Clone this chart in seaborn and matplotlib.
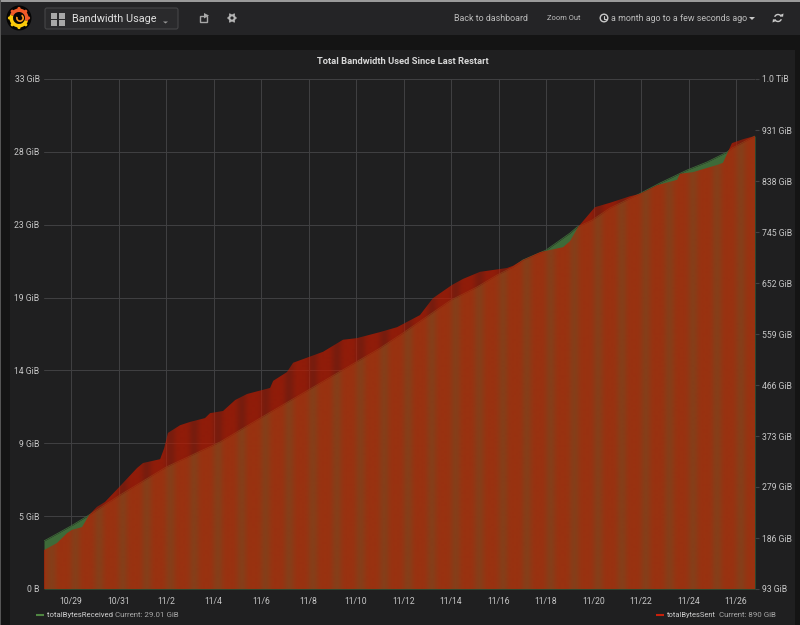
import numpy as np
import matplotlib
matplotlib.use('Agg')
import matplotlib.pyplot as plt
from matplotlib.patches import Circle, Rectangle, FancyBboxPatch, Polygon, Wedge
import seaborn as sns

# days since 10/29, bytes in GiB
days_received = [-1.14, 0, 0.76, 2.06, 4.0, 5.01, 6.27, 7.83, 10.06, 13.01, 13.98, 16.0, 17.09, 17.94,
                 18.61, 19.03, 20.0, 21.01, 21.31, 21.94, 22.69, 23.92, 24.8, 25.94, 26.78, 27.62, 27.83, 28.8]
received = [3.11, 4.08, 4.79, 6.08, 7.89, 8.61, 9.51, 10.94, 12.94, 15.59, 16.57, 18.70, 19.54, 20.32,
            20.83, 21.29, 21.93, 23.03, 23.42, 23.87, 24.65, 25.56, 26.27, 27.11, 27.63, 28.27, 28.53, 29.31]
days_sent = [-1.14, -0.59, -0.17, 0.04, 0.46, 0.76, 1.09, 1.43, 1.98, 2.78, 3.03, 3.75, 3.92, 4.08, 4.59,
             5.01, 5.64, 5.85, 6.4, 6.91, 7.41, 8.38, 8.51, 9.09, 9.35, 10.61, 11.45, 12.04, 13.01, 13.73,
             14.69, 15.24, 16.04, 16.5, 17.22, 18.36, 18.61, 19.03, 19.75, 20.72, 21.01, 21.35, 22.06, 22.69,
             23.54, 23.92, 24.67, 25.52, 25.64, 26.19, 27.2, 27.45, 27.83, 28.29, 28.8]
sent = [164, 177, 195, 201, 206, 228, 243, 252, 277, 314, 323, 330, 350, 378, 392,
        398, 405, 414, 418, 438, 449, 460, 473, 489, 506, 526, 548, 551, 562, 571,
        593, 624, 648, 659, 672, 679, 683, 694, 708, 717, 728, 754, 790, 798,
        810, 814, 830, 840, 851, 854, 867, 871, 907, 914, 920]

x_labels = ['10/29', '10/31', '11/2', '11/4', '11/6', '11/8', '11/10', '11/12', '11/14', '11/16',
            '11/18', '11/20', '11/22', '11/24', '11/26']
left_labels = ['0 B', '5 GiB', '9 GiB', '14 GiB', '19 GiB', '23 GiB', '28 GiB', '33 GiB']
right_labels = ['93 GiB', '186 GiB', '279 GiB', '373 GiB', '466 GiB', '559 GiB', '652 GiB', '745 GiB',
                '838 GiB', '931 GiB', '1.0 TiB']

GREEN = '#3e6b39'  # already blended with the panel, so the grid stays hidden
RED = '#bf1b00'
PANEL = '#1f1f20'
TEXT = '#c8c8c8'
GRID = '#414143'

sns.set_theme(style='dark', rc={'figure.facecolor': '#141414', 'axes.facecolor': PANEL, 'text.color': TEXT,
                                'xtick.color': TEXT, 'ytick.color': TEXT, 'axes.edgecolor': GRID})
plt.rcParams['font.family'] = ['Roboto', 'DejaVu Sans']

fig = plt.figure(figsize=(8, 6.25), dpi=100)

# page furniture, in pixels
bg = fig.add_axes([0, 0, 1, 1], zorder=0)
bg.set_xlim(0, 800)
bg.set_ylim(625, 0)
bg.axis('off')
bg.add_patch(Rectangle((1, 2), 799, 33, color='#242426', lw=0))
bg.add_patch(Rectangle((0, 0), 800, 1.5, color='#9a9a9a', lw=0))
bg.add_patch(Rectangle((0, 0), 1.2, 625, color='#555555', lw=0))
bg.add_patch(Rectangle((10, 50), 785, 575, color=PANEL, lw=0))
bg.add_patch(FancyBboxPatch((45, 8), 133, 21, boxstyle='round,pad=0,rounding_size=2',
                            fc='#2a2a2c', ec='#454547', lw=0.8))

# logo
bg.add_patch(Circle((19, 18), 12.5, color='#050505', lw=0))
bg.add_patch(Wedge((19, 18), 9.5, 200, 20, width=3.5, color='#f05a28', lw=0))
bg.add_patch(Wedge((19, 18), 9.5, 20, 200, width=3.5, color='#fbca0a', lw=0))
for a in np.arange(0, 360, 45):
    bg.add_patch(Circle((19 + 9.5 * np.cos(np.radians(a)), 18 + 9.5 * np.sin(np.radians(a))), 1.6,
                        color='#fbca0a' if 20 < a < 200 else '#f05a28', lw=0))
bg.add_patch(Wedge((20, 18), 4, 300, 200, width=1.7, color='#f79520', lw=0))

for px, py in [(51, 13), (58.5, 13), (51, 20), (58.5, 20)]:
    bg.add_patch(Rectangle((px, py), 6, 5.5, color='#a8a8a8', lw=0))
bg.add_patch(Polygon([(163, 21.5), (168, 21.5), (165.5, 23.5)], color='#999999', lw=0))

# share icon
bg.add_patch(Rectangle((200, 15.5), 6.5, 6, fc='none', ec='#a8a8a8', lw=1))
bg.add_patch(Polygon([(204, 13), (209, 15.5), (204, 18.5)], color='#a8a8a8', lw=0))
# gear icon
bg.add_patch(Circle((232, 18), 2.7, fc='none', ec='#b5b5b5', lw=1.5))
for a in np.arange(0, 360, 60):
    bg.plot([232 + 2.7 * np.cos(np.radians(a)), 232 + 4.4 * np.cos(np.radians(a))],
            [18 + 2.7 * np.sin(np.radians(a)), 18 + 4.4 * np.sin(np.radians(a))], color='#b5b5b5', lw=1.2)
# clock
bg.add_patch(Circle((604, 18), 3.8, fc='none', ec='#c8c8c8', lw=1))
bg.plot([604, 604, 606], [15.5, 18.5, 18.5], color='#c8c8c8', lw=0.8)
bg.add_patch(Polygon([(749, 17), (755, 17), (752, 20)], color='#c8c8c8', lw=0))
# refresh
bg.add_patch(Wedge((778, 18), 4.2, 200, 340, width=1.4, color='#c8c8c8', lw=0))
bg.add_patch(Wedge((778, 18), 4.2, 20, 160, width=1.4, color='#c8c8c8', lw=0))
bg.add_patch(Polygon([(780, 15), (783.5, 13.5), (783, 17)], color='#c8c8c8', lw=0))
bg.add_patch(Polygon([(776, 21), (772.5, 22.5), (773, 19)], color='#c8c8c8', lw=0))

bg.text(71.5, 18.5, 'Bandwidth Usage', fontsize=7.85, color='#e0e0e0', va='center')
bg.text(454, 18.5, 'Back to dashboard', fontsize=6.4, color='#bcbcbc', va='center')
bg.text(547, 18.5, 'Zoom Out', fontsize=5.4, color='#bcbcbc', va='center')
bg.text(611, 18.5, 'a month ago to a few seconds ago', fontsize=6.4, color='#bcbcbc', va='center')
bg.text(403, 61, 'Total Bandwidth Used Since Last Restart', fontsize=6.75, fontweight='bold',
        color='#d8d8d8', ha='center', va='center')

# legend
bg.plot([36, 44], [615, 615], color='#508642', lw=1.5, solid_capstyle='butt')
bg.text(47, 615, 'totalBytesReceived', fontsize=5.55, color='#d0d0d0', va='center')
bg.text(115, 615, 'Current: 29.01 GiB', fontsize=5.65, color='#a8a8a8', va='center')
bg.plot([656, 664], [615, 615], color='#c8200a', lw=1.5, solid_capstyle='butt')
bg.text(667, 615, 'totalBytesSent', fontsize=5.45, color='#d0d0d0', va='center')
bg.text(719, 615, 'Current: 890 GiB', fontsize=5.65, color='#a8a8a8', va='center')

# the graph, green on the left axis and red on the right
x0, x1 = -1.14, 28.8
ax = fig.add_axes([44 / 800, 36 / 625, 711 / 800, 510 / 625], zorder=1)
ax.set_facecolor(PANEL)
ax.fill_between(days_received, received, 0, color=GREEN, lw=0, zorder=2)
sns.lineplot(x=days_received, y=received, ax=ax, color=GREEN, lw=0.6, zorder=3)
ax.set_xlim(x0, x1)
ax.set_ylim(0, 33)
ax.set_xticks(np.arange(0, 29, 2), x_labels)
ax.set_yticks(np.linspace(0, 33, 8), left_labels)
ax.grid(True, color=GRID, lw=0.7)
ax.set_axisbelow(True)
ax.tick_params(axis='both', labelsize=6.2, length=0, pad=3.2)
ax.tick_params(axis='x', pad=6)
for s in ax.spines.values():
    s.set_visible(False)

ax2 = ax.twinx()
ax2.patch.set_visible(False)
outline = ax2.fill_between(days_sent, sent, 93, facecolor='none', lw=0)
# sent fill thins out once per day, which gives the vertical bands
xs = np.linspace(x0, x1, 1422)
bands = np.zeros((1, xs.size, 4))
bands[..., :3] = matplotlib.colors.to_rgb(RED)
bands[..., 3] = 0.71 - 0.15 * ((1 + np.cos(2 * np.pi * (xs - 0.17))) / 2) ** 2
im = ax2.imshow(bands, extent=[x0, x1, 93, 1024], aspect='auto', interpolation='bilinear', zorder=2)
im.set_clip_path(outline.get_paths()[0], ax2.transData)
ax2.set_xlim(x0, x1)
ax2.set_ylim(93, 1024)
ax2.set_yticks(np.linspace(93, 1024, 11), right_labels)
ax2.tick_params(axis='y', labelsize=6.2, length=3, width=0.8, color=GRID, pad=2)
ax2.grid(False)
for s in ax2.spines.values():
    s.set_visible(False)

fig.savefig('out.png', dpi=100, facecolor=fig.get_facecolor())
